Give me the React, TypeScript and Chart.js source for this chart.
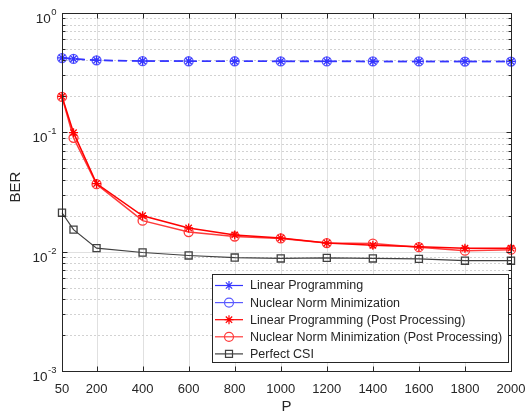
import React, { useEffect, useRef } from "react";
import { Chart, registerables } from "chart.js";

Chart.register(...registerables);

const P = [50, 100, 200, 400, 600, 800, 1000, 1200, 1400, 1600, 1800, 2000];
const berLP = [0.421, 0.413, 0.402, 0.396, 0.395, 0.394, 0.394, 0.394, 0.393, 0.393, 0.393, 0.393];
const berNNM = [0.419, 0.412, 0.401, 0.395, 0.394, 0.394, 0.393, 0.393, 0.393, 0.393, 0.392, 0.392];
const berLPPost = [0.2, 0.0994, 0.0372, 0.02, 0.0158, 0.0138, 0.013, 0.0118, 0.0113, 0.011, 0.0107, 0.0107];
const berNNMPost = [0.198, 0.09, 0.0368, 0.0182, 0.0146, 0.0134, 0.0129, 0.0118, 0.0117, 0.0109, 0.0102, 0.0104];
const berCSI = [0.0212, 0.0153, 0.0107, 0.00984, 0.00929, 0.00893, 0.00877, 0.00888, 0.00877, 0.0087, 0.0084, 0.0084];

const xTicks = [50, 200, 400, 600, 800, 1000, 1200, 1400, 1600, 1800, 2000];
const yExponents = [0, -1, -2, -3];
const seriesNames = [
  "Linear Programming",
  "Nuclear Norm Minimization",
  "Linear Programming (Post Processing)",
  "Nuclear Norm Minimization (Post Processing)",
  "Perfect CSI",
];
const seriesValues = [berLP, berNNM, berLPPost, berNNMPost, berCSI];
const seriesColors = ["#3434ff", "#5a5aff", "#ff0000", "#ff3a3a", "#404040"];
const seriesMarkers = ["star", "circle", "star", "circle", "rect"];
const seriesDashed = [true, true, false, false, false];

const AXIS = "#262626";
const FONT = "Liberation Sans, Arial, sans-serif";

function drawMarker(ctx: CanvasRenderingContext2D, kind: string, x: number, y: number, color: string) {
  ctx.save();
  ctx.strokeStyle = color;
  ctx.lineWidth = 1.2;
  ctx.setLineDash([]);
  ctx.beginPath();
  if (kind === "star") {
    const r = 4.5;
    ctx.moveTo(x - r, y); ctx.lineTo(x + r, y);
    ctx.moveTo(x, y - r); ctx.lineTo(x, y + r);
    const d = r * 0.707;
    ctx.moveTo(x - d, y - d); ctx.lineTo(x + d, y + d);
    ctx.moveTo(x - d, y + d); ctx.lineTo(x + d, y - d);
  } else if (kind === "circle") {
    ctx.arc(x, y, 4.5, 0, Math.PI * 2);
  } else {
    ctx.rect(x - 3.5, y - 3.5, 7, 7);
  }
  ctx.stroke();
  ctx.restore();
}

const framePlugin = {
  id: "matlabFrame",
  beforeDatasetsDraw(chart: any) {
    const { ctx, chartArea: a, scales } = chart;
    const xs = scales.x, ys = scales.y;
    ctx.save();
    ctx.strokeStyle = "#e0e0e0";
    ctx.lineWidth = 1;
    for (const t of xTicks) {
      const px = Math.round(xs.getPixelForValue(t)) + 0.5;
      ctx.beginPath(); ctx.moveTo(px, a.top); ctx.lineTo(px, a.bottom); ctx.stroke();
    }
    for (const e of yExponents) {
      const py = Math.round(ys.getPixelForValue(Math.pow(10, e))) + 0.5;
      ctx.beginPath(); ctx.moveTo(a.left, py); ctx.lineTo(a.right, py); ctx.stroke();
    }
    ctx.strokeStyle = "#d2d2d2";
    ctx.setLineDash([2, 2]);
    for (let e = -3; e < 0; e++) {
      for (let k = 2; k <= 9; k++) {
        const py = Math.round(ys.getPixelForValue(k * Math.pow(10, e))) + 0.5;
        ctx.beginPath(); ctx.moveTo(a.left, py); ctx.lineTo(a.right, py); ctx.stroke();
      }
    }
    ctx.restore();
  },
  afterDatasetsDraw(chart: any) {
    const { ctx, chartArea: a, scales } = chart;
    const xs = scales.x, ys = scales.y;
    ctx.save();
    ctx.strokeStyle = AXIS;
    ctx.lineWidth = 1;
    ctx.setLineDash([]);
    const L = Math.round(a.left) + 0.5, R = Math.round(a.right) + 0.5;
    const T = Math.round(a.top) + 0.5, B = Math.round(a.bottom) + 0.5;
    ctx.strokeRect(L, T, R - L, B - T);
    ctx.beginPath();
    for (const t of xTicks) {
      const px = Math.round(xs.getPixelForValue(t)) + 0.5;
      ctx.moveTo(px, B); ctx.lineTo(px, B - 5);
      ctx.moveTo(px, T); ctx.lineTo(px, T + 5);
    }
    for (let e = -3; e <= 0; e++) {
      const py = Math.round(ys.getPixelForValue(Math.pow(10, e))) + 0.5;
      ctx.moveTo(L, py); ctx.lineTo(L + 5, py);
      ctx.moveTo(R, py); ctx.lineTo(R - 5, py);
      if (e < 0) {
        for (let k = 2; k <= 9; k++) {
          const pm = Math.round(ys.getPixelForValue(k * Math.pow(10, e))) + 0.5;
          ctx.moveTo(L, pm); ctx.lineTo(L + 3, pm);
          ctx.moveTo(R, pm); ctx.lineTo(R - 3, pm);
        }
      }
    }
    ctx.stroke();

    ctx.fillStyle = AXIS;
    ctx.font = `13px ${FONT}`;
    ctx.textAlign = "center";
    ctx.textBaseline = "alphabetic";
    for (const t of xTicks) {
      ctx.fillText(String(t), xs.getPixelForValue(t), a.bottom + 22);
    }
    for (const e of yExponents) {
      const py = ys.getPixelForValue(Math.pow(10, e));
      const exp = e === 0 ? "0" : "-" + String(-e);
      ctx.font = `9.5px ${FONT}`;
      const ew = ctx.measureText(exp).width;
      ctx.textAlign = "left";
      const ex = 56.5 - ew;
      ctx.fillText(exp, ex, py + 2);
      ctx.font = `13.5px ${FONT}`;
      ctx.textAlign = "right";
      ctx.fillText("10", ex - 0.5, py + 10);
    }
    ctx.font = `15px ${FONT}`;
    ctx.textAlign = "center";
    ctx.fillText("P", (a.left + a.right) / 2, 411);
    ctx.save();
    ctx.translate(16, 187);
    ctx.rotate(-Math.PI / 2);
    ctx.textBaseline = "middle";
    ctx.fillText("BER", 0, 0);
    ctx.restore();

    const lx = 212, ly = 274, lw = 296, lh = 88;
    ctx.fillStyle = "#ffffff";
    ctx.fillRect(lx, ly, lw, lh);
    ctx.strokeStyle = AXIS;
    ctx.strokeRect(lx + 0.5, ly + 0.5, lw, lh);
    ctx.font = `12.5px ${FONT}`;
    ctx.textAlign = "left";
    ctx.textBaseline = "middle";
    for (let i = 0; i < seriesNames.length; i++) {
      const cy = 285.5 + i * 17.1;
      ctx.strokeStyle = seriesColors[i];
      ctx.lineWidth = 1.2;
      ctx.beginPath(); ctx.moveTo(215, cy); ctx.lineTo(243, cy); ctx.stroke();
      drawMarker(ctx, seriesMarkers[i], 229, cy, seriesColors[i]);
      ctx.fillStyle = AXIS;
      ctx.fillText(seriesNames[i], 250, cy + 0.5);
    }
    ctx.restore();
  },
};

export default function App() {
  const ref = useRef<HTMLCanvasElement>(null);
  useEffect(() => {
    if (!ref.current) return;
    const datasets = seriesNames.map((name, i) => ({
      label: name,
      data: P.map((x, j) => ({ x, y: seriesValues[i][j] })),
      borderColor: seriesColors[i],
      backgroundColor: "rgba(0,0,0,0)",
      borderWidth: i === 4 ? 1.2 : 1.5,
      borderDash: seriesDashed[i] ? [9, 5] : [],
      pointStyle: seriesMarkers[i] as any,
      pointRadius: seriesMarkers[i] === "rect" ? 5 : 4.5,
      pointBorderColor: seriesColors[i],
      pointBackgroundColor: "rgba(0,0,0,0)",
      pointBorderWidth: 1.3,
      tension: 0,
      clip: false as any,
    }));
    const chart = new Chart(ref.current, {
      type: "line",
      data: { datasets },
      options: {
        responsive: false,
        devicePixelRatio: 1,
        animation: false,
        plugins: { legend: { display: false }, tooltip: { enabled: false } },
        layout: { padding: { top: 13, right: 16, left: 0, bottom: 0 } },
        scales: {
          x: {
            type: "linear",
            min: 50,
            max: 2000,
            ticks: { display: false },
            grid: { display: false },
            border: { display: false },
            afterFit: (s: any) => { s.height = 41; },
          },
          y: {
            type: "logarithmic",
            min: 0.001,
            max: 1,
            ticks: { display: false },
            grid: { display: false },
            border: { display: false },
            afterFit: (s: any) => { s.width = 62; },
          },
        },
      },
      plugins: [framePlugin],
    } as any);
    return () => chart.destroy();
  }, []);
  return (
    <div style={{ position: "fixed", left: 0, top: 0, width: 527, height: 412, background: "#fff" }}>
      <canvas ref={ref} width={527} height={412} style={{ display: "block" }} />
    </div>
  );
}
